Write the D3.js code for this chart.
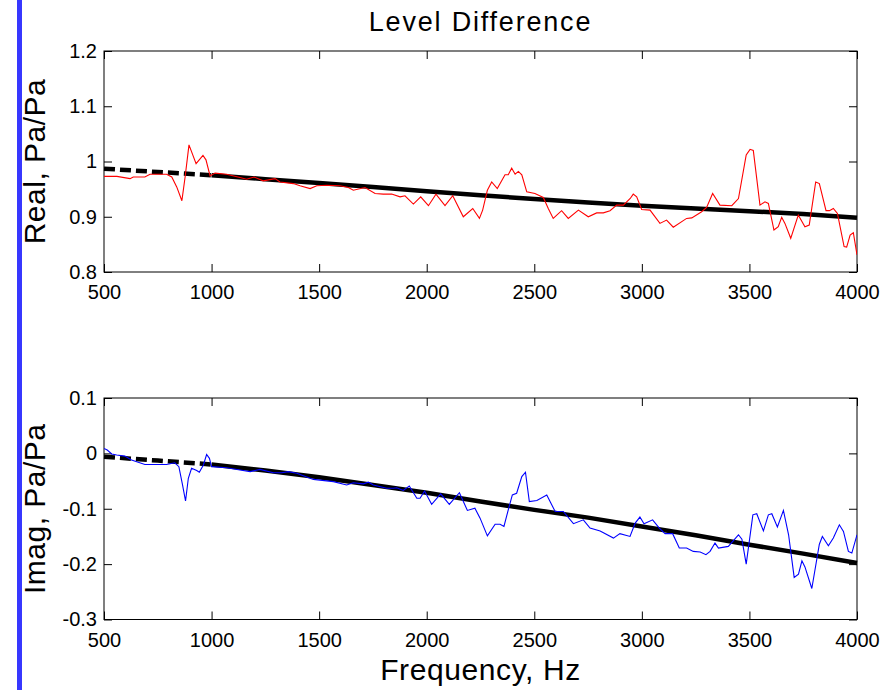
<!DOCTYPE html>
<html>
<head>
<meta charset="utf-8">
<script src="https://d3js.org/d3.v7.min.js"></script>
<style>
  body { margin: 0; background: #fff; }
  svg { display: block; font-family: "Liberation Sans", Arial, sans-serif; }
</style>
</head>
<body>
<svg></svg>
<script>
const width = 894;
const height = 690;

// x ticks shared by both panels
const freqTicks = [500, 1000, 1500, 2000, 2500, 3000, 3500, 4000];

// smooth fit (black), sampled every 250 Hz
const fitFreq = [500, 750, 1000, 1250, 1500, 1750, 2000, 2250, 2500, 2750, 3000, 3250, 3500, 3750, 4000];
const realFit = [0.987, 0.981, 0.975, 0.968, 0.961, 0.954, 0.946, 0.939, 0.932, 0.926, 0.920, 0.915, 0.910, 0.905, 0.898];
const imagFit = [-0.006, -0.013, -0.020, -0.031, -0.043, -0.057, -0.071, -0.087, -0.102, -0.116, -0.132, -0.148, -0.165, -0.181, -0.198];

// measured real part (red)
const realFreq = [500, 560, 621, 636, 690, 714, 791, 815, 838, 862, 877, 895, 928, 960, 974, 993, 1016, 1070, 1132, 1163,
  1197, 1240, 1295, 1318, 1380, 1411, 1458, 1489, 1535, 1597, 1636, 1659, 1713, 1760, 1798, 1837, 1876, 1899, 1938, 1972,
  2008, 2043, 2085, 2121, 2170, 2214, 2245, 2260, 2282, 2302, 2328, 2364, 2379, 2395, 2411, 2426, 2442, 2465, 2503, 2542,
  2565, 2588, 2627, 2658, 2705, 2751, 2790, 2821, 2852, 2883, 2914, 2946, 2960, 2976, 2999, 3038, 3084, 3115, 3146, 3208,
  3232, 3278, 3301, 3329, 3363, 3418, 3449, 3485, 3503, 3518, 3549, 3572, 3588, 3614, 3634, 3650, 3665, 3692, 3727, 3758,
  3778, 3808, 3825, 3856, 3872, 3890, 3909, 3940, 3952, 3968, 3983, 4000];
const realVals = [0.973, 0.973, 0.969, 0.972, 0.972, 0.977, 0.977, 0.972, 0.954, 0.929, 0.972, 1.030, 0.996, 1.011, 1.003, 0.974, 0.979, 0.977, 0.971, 0.968,
  0.972, 0.965, 0.969, 0.963, 0.960, 0.956, 0.951, 0.956, 0.957, 0.956, 0.953, 0.948, 0.953, 0.942, 0.941, 0.941, 0.936, 0.938, 0.923, 0.936,
  0.920, 0.941, 0.920, 0.938, 0.900, 0.915, 0.897, 0.912, 0.948, 0.963, 0.951, 0.976, 0.976, 0.988, 0.977, 0.982, 0.976, 0.945, 0.942, 0.935,
  0.915, 0.897, 0.911, 0.897, 0.912, 0.900, 0.907, 0.907, 0.911, 0.921, 0.921, 0.933, 0.941, 0.936, 0.913, 0.912, 0.888, 0.894, 0.881, 0.897,
  0.898, 0.909, 0.917, 0.942, 0.921, 0.920, 0.933, 1.012, 1.022, 1.020, 0.921, 0.927, 0.924, 0.876, 0.882, 0.899, 0.888, 0.861, 0.903, 0.882,
  0.885, 0.963, 0.960, 0.911, 0.911, 0.915, 0.906, 0.846, 0.845, 0.867, 0.871, 0.831];

// measured imaginary part (blue)
const imagFreq = [500, 515, 536, 559, 597, 628, 690, 791, 829, 848, 865, 879, 892, 907, 931, 943, 962, 977, 990, 1000,
  1070, 1132, 1179, 1225, 1287, 1326, 1357, 1396, 1473, 1566, 1628, 1659, 1706, 1729, 1752, 1814, 1845, 1860, 1891, 1919,
  1954, 1969, 1990, 2023, 2065, 2105, 2152, 2189, 2224, 2248, 2282, 2318, 2341, 2359, 2379, 2398, 2418, 2442, 2459, 2477,
  2512, 2558, 2597, 2635, 2682, 2728, 2759, 2806, 2868, 2898, 2945, 2969, 2991, 3010, 3050, 3081, 3108, 3143, 3174, 3208,
  3239, 3271, 3298, 3317, 3340, 3356, 3402, 3449, 3465, 3485, 3516, 3534, 3565, 3588, 3604, 3630, 3658, 3682, 3708, 3728,
  3744, 3758, 3790, 3825, 3839, 3867, 3890, 3918, 3937, 3960, 3976, 4000];
const imagVals = [0.009, 0.006, -0.001, -0.003, -0.005, -0.012, -0.020, -0.020, -0.017, -0.024, -0.057, -0.086, -0.045, -0.027, -0.031, -0.034, -0.021, -0.002, -0.009, -0.024,
  -0.026, -0.030, -0.033, -0.029, -0.035, -0.035, -0.033, -0.036, -0.047, -0.051, -0.057, -0.053, -0.055, -0.052, -0.057, -0.063, -0.063, -0.062, -0.067, -0.059,
  -0.081, -0.081, -0.068, -0.092, -0.073, -0.092, -0.071, -0.103, -0.099, -0.117, -0.149, -0.128, -0.128, -0.132, -0.102, -0.075, -0.072, -0.042, -0.034, -0.087,
  -0.085, -0.075, -0.105, -0.105, -0.127, -0.120, -0.135, -0.140, -0.153, -0.145, -0.150, -0.126, -0.115, -0.127, -0.120, -0.135, -0.145, -0.145, -0.171, -0.171,
  -0.177, -0.178, -0.183, -0.177, -0.162, -0.171, -0.168, -0.147, -0.155, -0.200, -0.111, -0.109, -0.140, -0.111, -0.109, -0.133, -0.103, -0.147, -0.224, -0.218,
  -0.194, -0.205, -0.244, -0.164, -0.150, -0.167, -0.153, -0.129, -0.141, -0.177, -0.180, -0.147];

const realTicks = [0.8, 0.9, 1.0, 1.1, 1.2];
const realTickLabels = ["0.8", "0.9", "1", "1.1", "1.2"];
const imagTicks = [-0.3, -0.2, -0.1, 0, 0.1];
const imagTickLabels = ["-0.3", "-0.2", "-0.1", "0", "0.1"];

const left = 104, right = 857;

const svg = d3.select('svg')
  .attr("width", width)
  .attr("height", height);

svg.append("rect").attr("width", width).attr("height", height).attr("fill", "#fff");

// blue bar at left edge
svg.append("rect")
  .attr("x", 17).attr("y", 0)
  .attr("width", 5).attr("height", height)
  .attr("fill", "#3737ff");

const xScale = d3.scaleLinear()
  .domain([500, 4000])
  .range([left, right]);

function panel(top, bottom, yDomain, yTicks, yLabels, label, freq, vals, fit, color) {
  const yScale = d3.scaleLinear().domain(yDomain).range([bottom, top]);
  const g = svg.append("g");

  // box
  g.append("rect")
    .attr("x", left).attr("y", top)
    .attr("width", right - left).attr("height", bottom - top)
    .attr("fill", "none").attr("stroke", "#000").attr("stroke-width", 1);

  const xAxis = d3.axisBottom(xScale)
    .tickValues(freqTicks)
    .tickSizeInner(-8).tickSizeOuter(0).tickPadding(13)
    .tickFormat(d3.format("d"));
  g.append("g")
    .attr("transform", `translate(0,${bottom})`)
    .call(xAxis)
    .call(a => a.select(".domain").remove());
  g.append("g")
    .attr("transform", `translate(0,${top})`)
    .call(d3.axisTop(xScale).tickValues(freqTicks).tickSizeInner(-8).tickSizeOuter(0).tickFormat(""))
    .call(a => a.select(".domain").remove());

  const yAxis = d3.axisLeft(yScale)
    .tickValues(yTicks)
    .tickSizeInner(-8).tickSizeOuter(0).tickPadding(7)
    .tickFormat((d, i) => yLabels[i]);
  g.append("g")
    .attr("transform", `translate(${left},0)`)
    .call(yAxis)
    .call(a => a.select(".domain").remove());
  g.append("g")
    .attr("transform", `translate(${right},0)`)
    .call(d3.axisRight(yScale).tickValues(yTicks).tickSizeInner(-8).tickSizeOuter(0).tickFormat(""))
    .call(a => a.select(".domain").remove());

  g.selectAll(".tick text")
    .attr("fill", "#000")
    .style("font-size", "20px")
    .style("font-family", "'Liberation Sans', Arial, sans-serif");
  g.selectAll(".tick line").attr("stroke", "#000");

  g.append("text")
    .attr("transform", `translate(45,${(top + bottom) / 2}) rotate(-90)`)
    .style("text-anchor", "middle")
    .style("font-size", "30px")
    .style("letter-spacing", "0.5px")
    .text(label);

  const clip = "clip" + top;
  g.append("clipPath").attr("id", clip)
    .append("rect").attr("x", left).attr("y", top).attr("width", right - left).attr("height", bottom - top);

  const fitData = fitFreq.map((f, i) => ({ f: f, v: fit[i] }));
  const line = d3.line().x(d => xScale(d.f)).y(d => yScale(d.v));

  g.append("path")
    .datum(fitData.filter(d => d.f <= 1000))
    .attr("d", line)
    .attr("fill", "none").attr("stroke", "#000")
    .attr("stroke-width", 4.5).attr("stroke-dasharray", "11,5");
  g.append("path")
    .datum(fitData.filter(d => d.f >= 1000))
    .attr("d", line)
    .attr("fill", "none").attr("stroke", "#000")
    .attr("stroke-width", 4.5);

  g.append("path")
    .datum(freq.map((f, i) => ({ f: f, v: vals[i] })))
    .attr("clip-path", `url(#${clip})`)
    .attr("d", line)
    .attr("fill", "none").attr("stroke", color)
    .attr("stroke-width", 1.1);
}

panel(51, 272, [0.8, 1.2], realTicks, realTickLabels, "Real, Pa/Pa", realFreq, realVals, realFit, "#ff0000");
panel(398, 619.5, [-0.3, 0.1], imagTicks, imagTickLabels, "Imag, Pa/Pa", imagFreq, imagVals, imagFit, "#0000ff");

svg.append("text")
  .attr("x", (left + right) / 2).attr("y", 31)
  .style("text-anchor", "middle")
  .style("font-size", "27px")
  .style("letter-spacing", "1.8px")
  .text("Level Difference");

svg.append("text")
  .attr("x", (left + right) / 2).attr("y", 680)
  .style("text-anchor", "middle")
  .style("font-size", "30px")
  .style("letter-spacing", "0.6px")
  .text("Frequency, Hz");
</script>
</body>
</html>
